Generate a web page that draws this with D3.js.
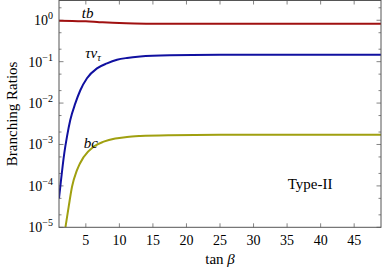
<!DOCTYPE html>
<html>
<head>
<meta charset="utf-8">
<script src="https://cdn.jsdelivr.net/npm/d3@7"></script>
<style>
  body { margin: 0; background: #fff; }
  svg { display: block; font-family: "Liberation Serif", serif; }
</style>
</head>
<body>
<svg width="382" height="268"></svg>
<script>
// tan(beta) sample points and branching ratios
const tanbTb = [1, 3, 5, 7, 9, 11, 14, 20, 30, 49];
const brTb = [0.97, 0.965, 0.94, 0.9, 0.865, 0.842, 0.828, 0.82, 0.82, 0.82];

const tanbTau = [1, 1.19, 1.79, 2.19, 2.68, 3.43, 4.18, 5.17, 6.66, 8.16, 9.65, 11.14, 13.1, 17.5, 25, 35, 49];
const brTau = [5.0e-5, 9.5e-5, 6.2e-4, 1.55e-3, 3.9e-3, 9.8e-3, 0.0204, 0.0398, 0.069, 0.091, 0.111, 0.123, 0.133, 0.142, 0.146, 0.147, 0.147];

const tanbBc = [1, 1.5, 1.94, 2.45, 2.94, 3.68, 4.68, 6.17, 7.66, 9.39, 11.14, 13.1, 17.5, 25, 35, 49];
const brBc = [6.3e-7, 3.4e-6, 9.5e-6, 3.2e-5, 9.5e-5, 2.4e-4, 5.0e-4, 8.9e-4, 1.17e-3, 1.40e-3, 1.52e-3, 1.60e-3, 1.68e-3, 1.72e-3, 1.73e-3, 1.73e-3];

const xTicks = [5, 10, 15, 20, 25, 30, 35, 40, 45];
const yMajor = [1e-5, 1e-4, 1e-3, 1e-2, 1e-1, 1];
const yExp = ["−5", "−4", "−3", "−2", "−1", "0"];

const svg = d3.select("svg");
const area = { left: 59, right: 381, top: 0.5, bottom: 227.3 };

const x = d3.scaleLinear().domain([1, 49]).range([area.left, area.right]);
const y = d3.scaleLog().domain([1e-5, 3]).range([area.bottom, area.top]);

// minor ticks at 2 and 5 per decade
let yMinor = [];
for (let d = -5; d <= 0; d++) {
    [2, 5].forEach(m => {
        let v = m * Math.pow(10, d);
        if (v < 3) yMinor.push(v);
    });
}

svg.append("clipPath").attr("id", "clip")
    .append("rect")
    .attr("x", area.left).attr("y", area.top)
    .attr("width", area.right - area.left).attr("height", area.bottom - area.top);

// ticks (pointing inward on all four sides)
const tickCol = "#666";
const tk = svg.append("g").attr("stroke", tickCol).attr("stroke-width", 0.8);
xTicks.forEach(t => {
    tk.append("line").attr("x1", x(t)).attr("x2", x(t)).attr("y1", area.bottom).attr("y2", area.bottom - 4);
    tk.append("line").attr("x1", x(t)).attr("x2", x(t)).attr("y1", area.top).attr("y2", area.top + 4);
});
yMajor.forEach(t => {
    tk.append("line").attr("x1", area.left).attr("x2", area.left + 4.5).attr("y1", y(t)).attr("y2", y(t));
    tk.append("line").attr("x1", area.right).attr("x2", area.right - 4.5).attr("y1", y(t)).attr("y2", y(t));
});
yMinor.forEach(t => {
    tk.append("line").attr("x1", area.left).attr("x2", area.left + 2.5).attr("y1", y(t)).attr("y2", y(t));
    tk.append("line").attr("x1", area.right).attr("x2", area.right - 2.5).attr("y1", y(t)).attr("y2", y(t));
});

// curves
const line = d3.line()
    .x(d => x(d[0]))
    .y(d => y(d[1]))
    .curve(d3.curveMonotoneX);

const series = [
    { xs: tanbTb, ys: brTb, color: "#a01010" },
    { xs: tanbTau, ys: brTau, color: "#1010a0" },
    { xs: tanbBc, ys: brBc, color: "#a0a010" }
];
series.forEach(s => {
    svg.append("path")
        .datum(d3.zip(s.xs, s.ys))
        .attr("d", line)
        .attr("clip-path", "url(#clip)")
        .attr("fill", "none")
        .attr("stroke", s.color)
        .attr("stroke-width", 2);
});

// frame
svg.append("rect")
    .attr("x", area.left).attr("y", area.top)
    .attr("width", area.right - area.left).attr("height", area.bottom - area.top)
    .attr("fill", "none").attr("stroke", "#555").attr("stroke-width", 1);

// x tick labels
svg.append("g").selectAll("text")
    .data(xTicks).enter().append("text")
    .attr("x", d => x(d)).attr("y", area.bottom + 18)
    .attr("text-anchor", "middle")
    .style("font-size", "14px")
    .text(d => d);

// y tick labels 10^n
yMajor.forEach((t, i) => {
    let txt = svg.append("text")
        .attr("x", 53).attr("y", y(t) + 5)
        .attr("text-anchor", "end")
        .style("font-size", "14px");
    txt.append("tspan").text("10");
    txt.append("tspan").attr("dy", -6).style("font-size", "10px").text(yExp[i]);
});

// axis titles
svg.append("text")
    .attr("transform", `translate(17, ${(area.top + area.bottom) / 2}) rotate(-90)`)
    .attr("text-anchor", "middle")
    .style("font-size", "15px")
    .text("Branching Ratios");

let xt = svg.append("text")
    .attr("x", (area.left + area.right) / 2).attr("y", 264)
    .attr("text-anchor", "middle")
    .style("font-size", "15px");
xt.append("tspan").text("tan ");
xt.append("tspan").style("font-style", "italic").text("β");

// curve labels
svg.append("text").attr("x", x(4.4)).attr("y", y(1.12))
    .style("font-size", "15px").style("font-style", "italic").text("tb");
let tau = svg.append("text").attr("x", x(4.9)).attr("y", y(0.122))
    .style("font-size", "15px").style("font-style", "italic");
tau.append("tspan").text("τν");
tau.append("tspan").attr("dy", 3).style("font-size", "10px").text("τ");
svg.append("text").attr("x", x(4.7)).attr("y", y(8.2e-4))
    .style("font-size", "15px").style("font-style", "italic").text("bc");
svg.append("text").attr("x", x(35.1)).attr("y", y(8.3e-5))
    .style("font-size", "15px").text("Type-II");
</script>
</body>
</html>
